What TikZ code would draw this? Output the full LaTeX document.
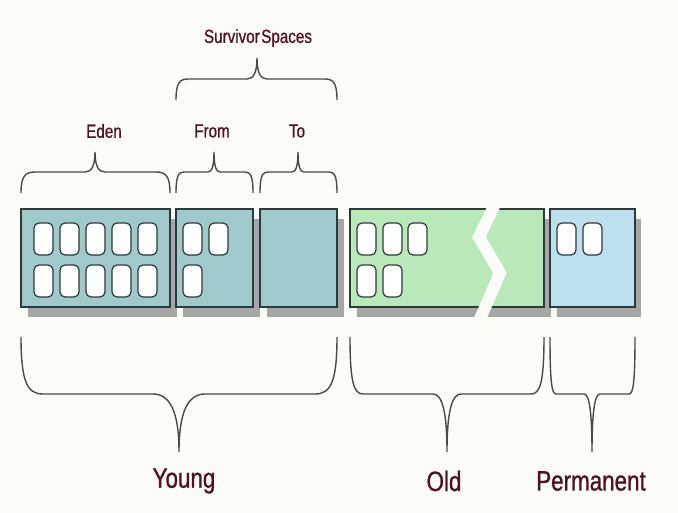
\documentclass[tikz,border=0pt]{standalone}
\usepackage{fontspec}
\setmainfont{Liberation Sans}[FakeStretch=0.8, RawFeature={embolden=0.9}]
\definecolor{bg}{HTML}{FBFCF8}
\definecolor{txt}{HTML}{4E1224}
\definecolor{brc}{HTML}{4A4A4A}
\definecolor{edge}{HTML}{2C3A3A}
\definecolor{young}{HTML}{9FC9CB}
\definecolor{old}{HTML}{B9E8B9}
\definecolor{perm}{HTML}{BDE0EF}
\definecolor{shade}{HTML}{A6A6A6}
\tikzset{
  bracestyle/.style={draw=brc, line width=1.4pt},
  boxstyle/.style={draw=edge, line width=1.3pt},
  shadestyle/.style={fill=shade},
  cell/.style={draw=edge, fill=white, line width=1.2pt, rounded corners=5pt},
  smalllabel/.style={text=txt, font=\fontsize{19}{22}\selectfont, inner sep=0pt},
  biglabel/.style={text=txt, font=\fontsize{28}{32}\selectfont, inner sep=0pt}
}
\newcommand{\gcbrace}[8]{%
  \draw[bracestyle] (#1,#4) .. controls (#1,{#5+0.2*(#4-#5)}) and ({#1+0.3*#7},#5) .. ({#1+#7},#5)
    -- ({#3-#8},#5) .. controls ({#3-0.35*#8},#5) and (#3,{#5+0.3*(#6-#5)}) .. (#3,#6)
    (#2,#4) .. controls (#2,{#5+0.2*(#4-#5)}) and ({#2-0.3*#7},#5) .. ({#2-#7},#5)
    -- ({#3+#8},#5) .. controls ({#3+0.35*#8},#5) and (#3,{#5+0.3*(#6-#5)}) .. (#3,#6);}
\newcommand{\gccell}[2]{\draw[cell] (#1,#2) rectangle ({#1+19},{#2+32});}
\begin{document}
\begin{tikzpicture}[x=1pt,y=-1pt]
\fill[bg] (0,0) rectangle (678,513);
\useasboundingbox (0,0) rectangle (678,513);
% shadows
\fill[shadestyle] (28,219) rectangle (177,317);
\fill[shadestyle] (183,219) rectangle (260,317);
\fill[shadestyle] (267,219) rectangle (344,317);
\fill[shadestyle] (357,219) rectangle (551,317);
\fill[shadestyle] (557,219) rectangle (641,317);
% boxes
\draw[boxstyle, fill=young] (21,209) rectangle (170,307);
\draw[boxstyle, fill=young] (176,209) rectangle (253,307);
\draw[boxstyle, fill=young] (260,209) rectangle (337,307);
\draw[boxstyle, fill=old] (350,209) rectangle (544,307);
\draw[boxstyle, fill=perm] (550,209) rectangle (635,307);
% cells
\foreach \x in {34,60,86,112,138} {\gccell{\x}{223}\gccell{\x}{265}}
\gccell{183}{223}\gccell{209}{223}\gccell{183}{265}
\gccell{357}{223}\gccell{383}{223}\gccell{408}{223}
\gccell{357}{265}\gccell{383}{265}
\gccell{557}{223}\gccell{583}{223}
% break in old generation
\draw[bg, line width=12pt, line join=miter] (498,198) -- (479,237) -- (500,273) -- (477,326);
% braces
\gcbrace{21}{170}{95}{193}{172}{152}{14}{10}
\gcbrace{176}{253}{214}{193}{172}{152}{8}{6}
\gcbrace{260}{337}{298}{193}{172}{152}{8}{6}
\gcbrace{176}{337}{257}{100}{79}{58}{12}{10}
\gcbrace{21}{337}{179}{337}{394}{452}{22}{26}
\gcbrace{350}{544}{447}{337}{394}{452}{13}{14}
\gcbrace{550}{635}{592}{337}{394}{452}{6}{8}
% labels
\node[smalllabel] (survivor) at (258,38) {Survivor\hspace{1.5pt}Spaces};
\node[smalllabel] (eden) at (104,131) {Eden};
\node[smalllabel] (from) at (212,131) {From};
\node[smalllabel] (to) at (297,131) {To};
\node[biglabel] (young) at (184,481) {Young};
\node[biglabel] (old) at (444,481) {Old};
\node[biglabel] (permanent) at (591,481) {Permanent};
\end{tikzpicture}
\end{document}
